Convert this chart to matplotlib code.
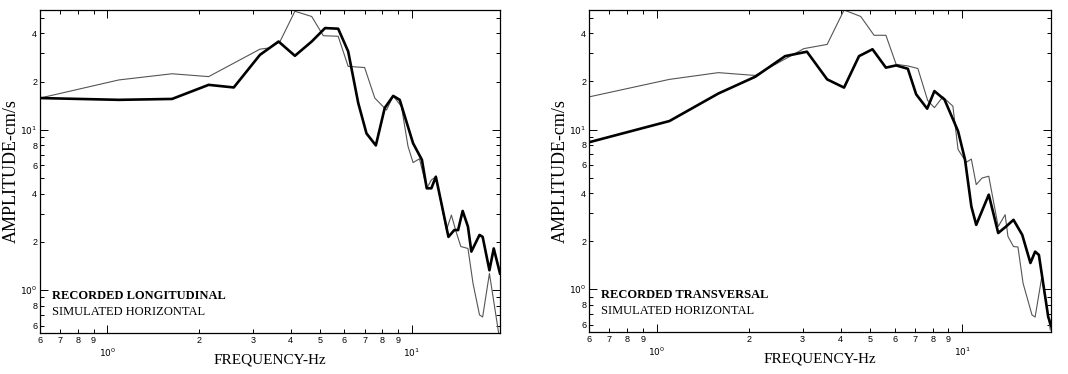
import matplotlib
matplotlib.use("Agg")
import matplotlib.pyplot as plt
import numpy as np
from matplotlib.ticker import FixedLocator, FuncFormatter

# left panel: recorded longitudinal (thick) and simulated horizontal (thin)
f_sim_l = [0.6, 1.09, 1.63, 2.15, 3.17, 3.42, 3.69, 4.13, 4.69, 5.12, 5.73, 6.18, 7.0, 7.56, 8.26, 8.69,
           9.25, 9.72, 10.1, 10.6, 11.2, 11.6, 12.0, 13.0, 13.5, 14.0, 14.5, 15.3, 15.9, 16.7, 17.1, 18.0, 19.3]
a_sim_l = [15.8, 20.5, 22.4, 21.5, 31.9, 32.5, 35.6, 55.0, 51.0, 38.7, 38.4, 24.9, 24.5, 15.8, 13.3, 16.3,
           14.0, 7.9, 6.25, 6.6, 4.32, 4.87, 5.1, 2.37, 2.94, 2.3, 1.87, 1.82, 1.1, 0.70, 0.68, 1.27, 0.54]
f_rec_l = [0.6, 1.09, 1.63, 2.15, 2.6, 3.17, 3.65, 4.13, 4.69, 5.19, 5.73, 6.18, 6.67, 7.1, 7.62, 8.15, 8.69,
           9.13, 10.1, 10.8, 11.2, 11.6, 12.0, 13.2, 13.8, 14.2, 14.7, 15.3, 15.7, 16.7, 17.1, 18.0, 18.6, 19.5]
a_rec_l = [15.8, 15.4, 15.6, 19.1, 18.4, 29.4, 35.6, 29.0, 35.6, 43.2, 42.8, 30.9, 14.7, 9.5, 8.0, 13.7, 16.3,
           15.4, 8.25, 6.5, 4.32, 4.32, 5.1, 2.15, 2.37, 2.37, 3.12, 2.49, 1.74, 2.21, 2.15, 1.33, 1.82, 1.27]

# right panel: recorded transversal (thick) and simulated horizontal (thin)
f_sim_r = [0.6, 1.1, 1.59, 2.1, 3.03, 3.61, 4.1, 4.65, 5.14, 5.62, 6.07, 6.63, 7.15, 7.7, 8.1, 8.63, 9.31,
           9.68, 10.3, 10.7, 11.1, 11.6, 12.2, 13.1, 13.8, 14.1, 14.7, 15.2, 15.8, 16.9, 17.3, 18.2, 19.4]
a_sim_r = [16.0, 20.6, 22.7, 21.8, 32.1, 34.1, 56.0, 51.0, 38.9, 38.9, 25.6, 25.0, 24.1, 15.2, 13.7, 16.0, 14.0,
           7.5, 6.24, 6.53, 4.52, 4.97, 5.1, 2.47, 2.93, 2.14, 1.85, 1.84, 1.09, 0.69, 0.67, 1.2, 0.556]
f_rec_r = [0.6, 1.1, 1.59, 2.1, 2.63, 3.1, 3.61, 4.1, 4.59, 5.08, 5.62, 6.07, 6.63, 7.06, 7.67, 8.1, 8.74,
           9.68, 10.2, 10.7, 11.1, 12.2, 13.1, 13.9, 14.7, 15.7, 16.7, 17.3, 17.8, 19.1, 19.6]
a_rec_r = [8.32, 11.3, 16.8, 21.4, 28.8, 30.7, 20.6, 18.3, 28.8, 31.8, 24.4, 25.2, 24.0, 16.6, 13.5, 17.4, 15.4,
           9.77, 6.49, 3.3, 2.53, 3.91, 2.25, 2.47, 2.72, 2.19, 1.46, 1.72, 1.64, 0.67, 0.58]

rec_names = ["RECORDED LONGITUDINAL", "RECORDED TRANSVERSAL"]
sim_name = "SIMULATED HORIZONTAL"

x_minor = [0.6, 0.7, 0.8, 0.9, 2, 3, 4, 5, 6, 7, 8, 9]
y_minor = [0.6, 0.7, 0.8, 0.9, 2, 3, 4, 5, 6, 7, 8, 9, 20, 30, 40, 50]
y_labeled = [0.6, 0.8, 2, 4, 6, 8, 20, 40]

serif = "Liberation Serif"


def lead_digit(v, pos):
    return str(int(round(v / 10 ** np.floor(np.log10(v) + 1e-9))))


def y_minor_fmt(v, pos):
    for t in y_labeled:
        if abs(v - t) < 1e-6:
            return lead_digit(v, pos)
    return ""


fig = plt.figure(figsize=(10.68, 3.74), dpi=100)
ax1 = fig.add_axes([40 / 1068, 41 / 374, 460 / 1068, 323 / 374])
ax2 = fig.add_axes([589 / 1068, 42 / 374, 462 / 1068, 322 / 374])

panels = [(ax1, f_rec_l, a_rec_l, f_sim_l, a_sim_l, rec_names[0]),
          (ax2, f_rec_r, a_rec_r, f_sim_r, a_sim_r, rec_names[1])]

for ax, fr, ar, fs, a_s, name in panels:
    ax.plot(fs, a_s, color="#555555", lw=0.8)
    ax.plot(fr, ar, color="black", lw=1.9)
    ax.set_xscale("log")
    ax.set_yscale("log")
    ax.set_xlim(0.6, 19.5)
    ax.set_ylim(0.54, 56)

    ax.xaxis.set_major_locator(FixedLocator([1, 10]))
    ax.xaxis.set_minor_locator(FixedLocator(x_minor))
    ax.xaxis.set_major_formatter(FuncFormatter(lambda v, p: "$10^{%d}$" % round(np.log10(v))))
    ax.xaxis.set_minor_formatter(FuncFormatter(lead_digit))
    ax.yaxis.set_major_locator(FixedLocator([1, 10]))
    ax.yaxis.set_minor_locator(FixedLocator(y_minor))
    ax.yaxis.set_major_formatter(FuncFormatter(lambda v, p: "$10^{%d}$" % round(np.log10(v))))
    ax.yaxis.set_minor_formatter(FuncFormatter(y_minor_fmt))

    ax.tick_params(which="both", direction="in", top=True, right=True, labelsize=6.5, width=0.7)
    ax.tick_params(which="major", length=6)
    ax.tick_params(which="minor", length=3)
    ax.tick_params(axis="x", which="major", pad=10)
    ax.tick_params(axis="x", which="minor", pad=2)
    ax.tick_params(axis="y", which="both", pad=2)
    for lab in ax.get_xticklabels(which="both") + ax.get_yticklabels(which="both"):
        lab.set_family(["Liberation Sans", "DejaVu Sans"])
    for sp in ax.spines.values():
        sp.set_linewidth(0.9)

    ax.set_xlabel("FREQUENCY-Hz", family=serif, fontsize=11)
    ax.set_ylabel("AMPLITUDE-cm/s", family=serif, fontsize=13)
    ax.xaxis.set_label_coords(0.5, -0.065)
    ax.yaxis.set_label_coords(-0.043, 0.5)

    ax.text(0.027, 0.105, name, transform=ax.transAxes, family=serif, fontweight="bold", fontsize=9)
    ax.text(0.027, 0.055, sim_name, transform=ax.transAxes, family=serif, fontsize=9)

plt.savefig("out.png", dpi=100)
